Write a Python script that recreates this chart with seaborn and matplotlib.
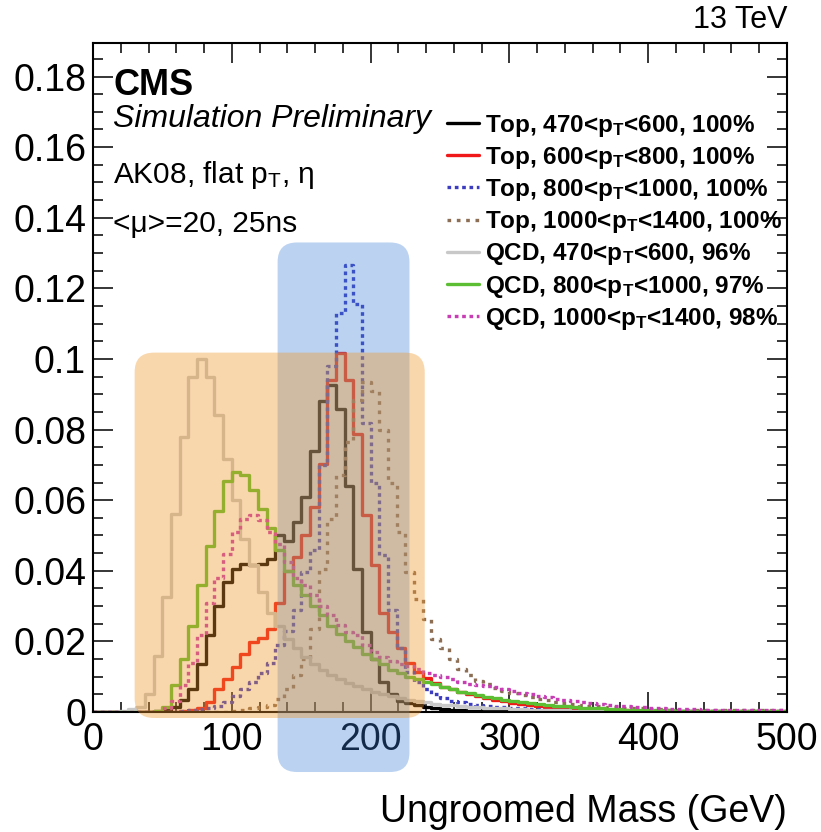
import numpy as np
import pandas as pd
import matplotlib
matplotlib.use("Agg")
import matplotlib.pyplot as plt
import seaborn as sns
from matplotlib.lines import Line2D
from matplotlib.patches import FancyBboxPatch
from matplotlib.ticker import MultipleLocator, FuncFormatter

# binning: 80 bins of 6.25 GeV between 0 and 500
bin_width = 6.25
bin_centers = np.arange(80) * bin_width + bin_width / 2

# normalised fractions per bin
top_470 = [0, 0, 0, 0, 0, 0, 0, 0.0002, 0.0005, 0.0014,
           0.0034, 0.0065, 0.0136, 0.0218, 0.030, 0.0368, 0.0405, 0.0419, 0.0415, 0.042,
           0.0433, 0.050, 0.0485, 0.0537, 0.0608, 0.074, 0.088, 0.0925, 0.0857, 0.064,
           0.0405, 0.0226, 0.015, 0.0085, 0.005, 0.0032, 0.0026, 0.002, 0.0015, 0.0011,
           0.0008, 0.0006, 0.0005, 0.0004, 0.0003, 0.0002, 0.0002, 0.0002, 0.0002, 0.0002,
           0.0001, 0.0001, 0.0001, 0.0001, 0.0001, 0.0001, 0.0001, 0.0001, 0.0001, 0.0001,
           0.0001, 0.0001, 0.0001, 0.0001, 0.0001, 0, 0, 0, 0, 0,
           0, 0, 0, 0, 0, 0, 0, 0, 0, 0]

top_600 = [0, 0, 0, 0, 0, 0, 0, 0, 0, 0,
           0.0002, 0.0005, 0.001, 0.0028, 0.0065, 0.0093, 0.0127, 0.0164, 0.0198, 0.021,
           0.0235, 0.031, 0.040, 0.044, 0.050, 0.058, 0.0702, 0.094, 0.1018, 0.094,
           0.0787, 0.0557, 0.0415, 0.028, 0.0226, 0.018, 0.014, 0.0113, 0.0095, 0.0082,
           0.0072, 0.0064, 0.0057, 0.005, 0.0044, 0.0039, 0.0034, 0.003, 0.0026, 0.0022,
           0.0019, 0.0017, 0.0015, 0.0013, 0.0011, 0.001, 0.0009, 0.0008, 0.0007, 0.0006,
           0.0005, 0.0005, 0.0004, 0.0004, 0.0004, 0.0003, 0.0003, 0.0003, 0.0003, 0.0003,
           0.0002, 0.0002, 0.0002, 0.0002, 0.0002, 0.0002, 0.0002, 0.0002, 0.0002, 0.0002]

top_800 = [0, 0, 0, 0, 0, 0, 0, 0, 0, 0,
           0.0002, 0.0005, 0.0008, 0.0012, 0.0018, 0.0028, 0.0045, 0.0065, 0.0085, 0.011,
           0.014, 0.019, 0.023, 0.029, 0.0396, 0.046, 0.070, 0.098, 0.113, 0.1265,
           0.1155, 0.082, 0.065, 0.0444, 0.029, 0.018, 0.0113, 0.0085, 0.0065, 0.005,
           0.004, 0.0032, 0.0028, 0.0024, 0.002, 0.0018, 0.0015, 0.0013, 0.0011, 0.001,
           0.0009, 0.0008, 0.0007, 0.0006, 0.0005, 0.0004, 0.0004, 0.0004, 0.0004, 0.0004,
           0.0004, 0.0003, 0.0003, 0.0003, 0.0003, 0.0002, 0.0002, 0.0002, 0.0002, 0.0002,
           0.0002, 0.0002, 0.0002, 0.0002, 0.0002, 0.0002, 0.0002, 0.0002, 0.0002, 0.0002]

top_1000 = [0, 0, 0, 0, 0, 0, 0, 0, 0, 0,
            0, 0, 0, 0, 0, 0, 0.0003, 0.0006, 0.001, 0.0015,
            0.002, 0.0037, 0.0065, 0.0104, 0.015, 0.0235, 0.0405, 0.0546, 0.067, 0.0764,
            0.0885, 0.0934, 0.091, 0.080, 0.065, 0.051, 0.0396, 0.032, 0.0263, 0.0207,
            0.018, 0.015, 0.0122, 0.0104, 0.0088, 0.0078, 0.0068, 0.006, 0.0053, 0.0047,
            0.0042, 0.0037, 0.0033, 0.0029, 0.0026, 0.0023, 0.002, 0.0018, 0.0016, 0.0014,
            0.0013, 0.0012, 0.0011, 0.001, 0.0009, 0.0008, 0.0007, 0.0007, 0.0007, 0.0007,
            0.0007, 0.0005, 0.0005, 0.0005, 0.0005, 0.0005, 0.0005, 0.0005, 0.0005, 0.0005]

qcd_470 = [0, 0, 0, 0.0003, 0.0008, 0.0015, 0.005, 0.016, 0.0325, 0.056,
           0.078, 0.095, 0.100, 0.095, 0.084, 0.0716, 0.060, 0.049, 0.0415, 0.034,
           0.028, 0.0245, 0.0207, 0.018, 0.0155, 0.0135, 0.012, 0.0105, 0.0093, 0.0083,
           0.0074, 0.0066, 0.0058, 0.0051, 0.0045, 0.004, 0.0035, 0.0031, 0.0027, 0.0024,
           0.0021, 0.0019, 0.0017, 0.0015, 0.0013, 0.0012, 0.0011, 0.001, 0.0009, 0.0008,
           0.0007, 0.0006, 0.0006, 0.0005, 0.0005, 0.0004, 0.0004, 0.0003, 0.0003, 0.0003,
           0.0002, 0.0002, 0.0002, 0.0002, 0.0002, 0.0002, 0.0002, 0.0001, 0.0001, 0.0001,
           0.0001, 0.0001, 0.0001, 0.0001, 0.0001, 0.0001, 0.0001, 0.0001, 0.0001, 0.0001]

qcd_800 = [0, 0, 0, 0, 0, 0, 0, 0.0003, 0.0015, 0.0076,
           0.015, 0.0245, 0.036, 0.047, 0.057, 0.0655, 0.068, 0.067, 0.063, 0.0575,
           0.052, 0.046, 0.040, 0.036, 0.033, 0.030, 0.0275, 0.0245, 0.022, 0.020,
           0.0185, 0.0165, 0.015, 0.0135, 0.012, 0.011, 0.010, 0.0093, 0.0085, 0.0078,
           0.0071, 0.0064, 0.0058, 0.0053, 0.0048, 0.0043, 0.0039, 0.0035, 0.0031, 0.0028,
           0.0025, 0.0022, 0.002, 0.0018, 0.0016, 0.0014, 0.0012, 0.0011, 0.001, 0.0009,
           0.0008, 0.0007, 0.0006, 0.0005, 0.0005, 0.0005, 0.0005, 0.0004, 0.0004, 0.0004,
           0.0004, 0.0004, 0.0004, 0.0003, 0.0003, 0.0003, 0.0003, 0.0003, 0.0003, 0.0003]

qcd_1000 = [0, 0, 0, 0, 0, 0, 0, 0, 0.001, 0.003,
            0.0076, 0.014, 0.0218, 0.031, 0.038, 0.0447, 0.051, 0.0546, 0.0557, 0.0545,
            0.051, 0.0475, 0.0424, 0.038, 0.036, 0.033, 0.030, 0.0274, 0.0246, 0.0226,
            0.0218, 0.019, 0.017, 0.0155, 0.0145, 0.0137, 0.013, 0.0122, 0.011, 0.0104,
            0.0099, 0.0093, 0.0086, 0.008, 0.0076, 0.0073, 0.007, 0.0066, 0.006, 0.0055,
            0.005, 0.0046, 0.0042, 0.0038, 0.0034, 0.0031, 0.0028, 0.0025, 0.0022, 0.002,
            0.0018, 0.0016, 0.0014, 0.0013, 0.0012, 0.001, 0.0009, 0.0009, 0.0008, 0.0008,
            0.0007, 0.0006, 0.0006, 0.0006, 0.0006, 0.0005, 0.0005, 0.0005, 0.0005, 0.0005]

labels = [
    r"Top, 470<p$_\mathbf{T}$<600, 100%",
    r"Top, 600<p$_\mathbf{T}$<800, 100%",
    r"Top, 800<p$_\mathbf{T}$<1000, 100%",
    r"Top, 1000<p$_\mathbf{T}$<1400, 100%",
    r"QCD, 470<p$_\mathbf{T}$<600, 96%",
    r"QCD, 800<p$_\mathbf{T}$<1000, 97%",
    r"QCD, 1000<p$_\mathbf{T}$<1400, 98%",
]
series = [top_470, top_600, top_800, top_1000, qcd_470, qcd_800, qcd_1000]
colors = ["#000000", "#f01818", "#3c3cc0", "#8c6e55", "#c8c8c8", "#5cbe32", "#c83cb4"]
styles = ["-", "-", (0, (1.1, 1.1)), (0, (1.1, 1.7)), "-", "-", (0, (1.1, 1.1))]

# ----------------------------------------------------------
sns.set_theme(style="ticks")
plt.rcParams["font.family"] = ["Liberation Sans", "DejaVu Sans"]
plt.rcParams["mathtext.fontset"] = "custom"
plt.rcParams["mathtext.rm"] = "Liberation Sans"
plt.rcParams["mathtext.it"] = "Liberation Sans:italic"
plt.rcParams["mathtext.bf"] = "Liberation Sans:bold"
for k in ["text.color", "axes.labelcolor", "xtick.color", "ytick.color", "axes.edgecolor"]:
    plt.rcParams[k] = "black"

fig = plt.figure(figsize=(8.21, 8.32), dpi=100)
ax = fig.add_axes([93 / 821, 1 - 712 / 832, 694 / 821, 669 / 832])

for vals, col, ls in zip(series, colors, styles):
    df = pd.DataFrame({"m": bin_centers, "w": vals})
    sns.histplot(data=df, x="m", weights="w", binwidth=bin_width, binrange=(0, 500),
                 element="step", fill=False, color=col, linewidth=2.4, linestyle=ls, ax=ax)

ax.set_xlim(0, 500)
ax.set_ylim(0, 0.1895)
ax.set_ylabel("")
ax.set_xlabel("Ungroomed Mass (GeV)", fontsize=27, loc="right", labelpad=26)

# ROOT style ticks
ax.xaxis.set_major_locator(MultipleLocator(100))
ax.xaxis.set_minor_locator(MultipleLocator(20))
ax.yaxis.set_major_locator(MultipleLocator(0.02))
ax.yaxis.set_minor_locator(MultipleLocator(0.005))
ax.yaxis.set_major_formatter(FuncFormatter(lambda v, p: "%g" % round(v, 3)))
ax.tick_params(which="both", direction="in", top=True, right=True, width=1.1, color="black")
ax.tick_params(which="major", length=14.5, labelsize=27)
ax.tick_params(which="minor", length=7)
ax.tick_params(axis="y", pad=5)
ax.tick_params(axis="x", pad=7)
for s in ax.spines.values():
    s.set_linewidth(1.5)
    s.set_color("black")
    s.set_visible(True)

# legend
handles = [Line2D([0], [0], color=c, lw=2.4, ls=l) for c, l in zip(colors, styles)]
ax.legend(handles, labels, loc="upper left", bbox_to_anchor=(0.510, 0.896),
          frameon=False, prop={"weight": "bold", "size": 17.5}, handlelength=1.3,
          handletextpad=0.25, labelspacing=0.255, borderaxespad=0, borderpad=0)

# texts
ax.text(0.029, 0.922, "CMS", transform=ax.transAxes, fontsize=26, fontweight="bold")
ax.text(0.029, 0.874, "Simulation Preliminary", transform=ax.transAxes, fontsize=23,
        style="italic")
ax.text(0.029, 0.790, r"AK08, flat p$_\mathrm{T}$, η", transform=ax.transAxes, fontsize=21.5)
ax.text(0.029, 0.7175, "<μ>=20, 25ns", transform=ax.transAxes, fontsize=21.5)
ax.text(1.0, 1.012, "13 TeV", transform=ax.transAxes, fontsize=22, ha="right", va="bottom")

# highlighted windows (blue below, orange on top)
asp = 0.19 / 669 * 694 / 500
blue_box = FancyBboxPatch((133, -0.017), 95, 0.150, boxstyle="round,pad=0,rounding_size=14",
                          mutation_aspect=asp, facecolor="#3a7ed6", edgecolor="none",
                          alpha=0.34, clip_on=False, zorder=20)
orange_box = FancyBboxPatch((30, -0.0017), 209, 0.1035, boxstyle="round,pad=0,rounding_size=14",
                            mutation_aspect=asp, facecolor="#f19628", edgecolor="none",
                            alpha=0.38, clip_on=False, zorder=21)
ax.add_patch(blue_box)
ax.add_patch(orange_box)

fig.savefig("out.png", dpi=100)
